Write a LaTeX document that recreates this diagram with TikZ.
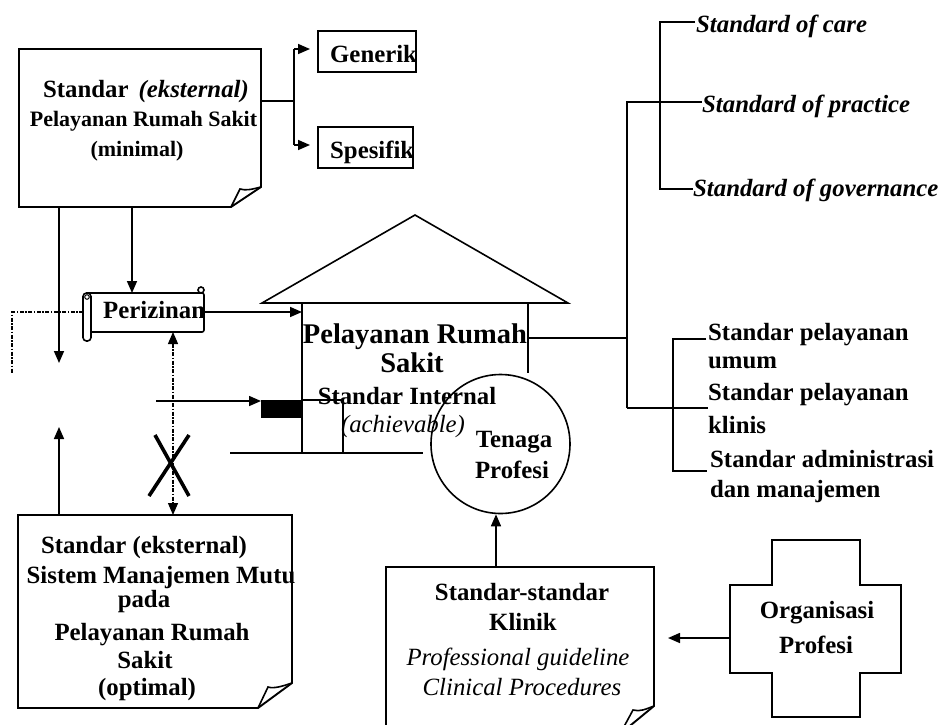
\documentclass[tikz,border=0pt]{standalone}
\usepackage{fontspec}
\setmainfont{Liberation Serif}
\usetikzlibrary{arrows.meta}
\begin{document}
\begin{tikzpicture}[x=1pt,y=-1pt,
  ln/.style={line width=1.6pt},
  bx/.style={line width=1.9pt},
  arr/.style={ln,-{Triangle[length=12pt,width=10pt]}},
  dd/.style={line width=1.3pt, dash pattern=on 4pt off 1.5pt on 1.5pt off 1.5pt},
  tb/.style={font=\fontsize{24.8}{28}\selectfont\bfseries, inner sep=0pt},
  ts/.style={font=\fontsize{22}{26}\selectfont\bfseries, inner sep=0pt},
  ti/.style={font=\fontsize{24.8}{28}\selectfont\bfseries\itshape, inner sep=0pt},
  tit/.style={font=\fontsize{24.8}{28}\selectfont\itshape, inner sep=0pt},
  th/.style={font=\fontsize{28.5}{32}\selectfont\bfseries, inner sep=0pt},
]
\useasboundingbox (0,0) rectangle (943,724);
\clip (0,0) rectangle (943,724);

% ---------- Box 1: Standar (eksternal) Pelayanan Rumah Sakit (minimal)
\draw[bx] (19,49) -- (261,49) -- (261,187) -- (231,207) -- (19,207) -- cycle;
\draw[ln] (231,207) -- (240,189) .. controls (246,191) and (253,189) .. (261,187);
\node[tb, anchor=base] (b1a) at (146,97) {Standar\hspace{10pt}\textit{(eksternal)}};
\node[ts, anchor=base] (b1b) at (143.5,126) {Pelayanan Rumah Sakit};
\node[ts, anchor=base] (b1c) at (137,156) {(minimal)};
\coordinate (b1r) at (261,101);
\coordinate (b1s1) at (59,207);
\coordinate (b1s2) at (132,207);

% ---------- Generik / Spesifik
\draw[bx] (318,31) rectangle (416,72);
\node[tb, anchor=base west] (gen) at (330,62) {Generik};
\draw[bx] (318,127) rectangle (413,168);
\node[tb, anchor=base west] (spe) at (330,158) {Spesifik};
\coordinate (fork) at (294,101);
\coordinate (genl) at (318,49);
\coordinate (spel) at (318,145);
\draw[ln] (b1r) -- (fork);
\draw[ln] (fork |- genl) -- (fork |- spel);
\draw[arr] (fork |- genl) -- ([xshift=-8pt]genl);
\draw[arr] (fork |- spel) -- ([xshift=-8pt]spel);

% ---------- Right: Standard of ...
\node[ti, anchor=base west] (soc) at (696,32) {Standard of care};
\node[ti, anchor=base west] (sop) at (702,112) {Standard of practice};
\node[ti, anchor=base west] (sog) at (693,196) {Standard of governance};
\draw[ln] (695,22) -- (660,22) -- (660,189) -- (693,189);
\draw[ln] (627,408) -- (627,102) -- (702,102);

\node[tb, anchor=base west] (sp1) at (708,340) {Standar pelayanan};
\node[tb, anchor=base west] (sp1b) at (708,368) {umum};
\node[tb, anchor=base west] (sp2) at (708,400) {Standar pelayanan};
\node[tb, anchor=base west] (sp2b) at (708,433) {klinis};
\node[tb, anchor=base west] (sp3) at (710,467) {Standar administrasi};
\node[tb, anchor=base west] (sp3b) at (710,497) {dan manajemen};
\draw[ln] (706,339) -- (673,339) -- (673,471) -- (707,471);
\draw[ln] (627,408) -- (708,408);

% ---------- House
\draw[ln] (262,303) -- (415,215) -- (568,303) -- cycle;
\draw[ln] (302,303) -- (302,453);
\draw[ln] (528,303) -- (528,373);
\draw[ln] (528,338) -- (627,338);
\fill (261,400) rectangle (302,418);
\draw[ln] (302,400) rectangle (343,453);
\draw[ln] (230,453) -- (423,453);
\node[th, anchor=base] (pr1) at (415,343) {Pelayanan Rumah};
\node[th, anchor=base] (pr2) at (412,372) {Sakit};
\node[tb, anchor=base] (si1) at (407,404) {Standar Internal};
\node[tit, anchor=base] (si2) at (403,432) {(achievable)};
\coordinate (hl) at (302,312);
\coordinate (blk) at (261,401);
\coordinate (blkst) at (156,401);
\draw[arr] (blkst) -- (blk);

% ---------- Tenaga Profesi circle
\node[draw, circle, ln, minimum size=139pt, inner sep=0pt] (tp) at (500.5,444) {};
\node[tb, anchor=base] (tp1) at (514,447) {Tenaga};
\node[tb, anchor=base] (tp2) at (512,478) {Profesi};

% ---------- Perizinan scroll
\draw[ln, fill=white, rounded corners=2pt] (88,293) -- (204,293) -- (204,332) -- (88,332);
\draw[ln, fill=white, rounded corners=3.5pt] (83,293) rectangle (91,341);
\draw[line width=1pt] (87,297) circle (2.3);
\draw[ln, fill=white] (201,290) circle (3);
\node[tb, anchor=base west] (per) at (103,318) {Perizinan};
\coordinate (perl) at (83,312);
\coordinate (perr) at (204,312);
\coordinate (pert) at (132,293);
\coordinate (perb) at (173,332);
\coordinate (dl) at (12,373);
\draw[arr] (b1s2) -- (pert);
\draw[arr] (perr) -- (hl);
\draw[dd] (perl) -- (perl -| dl) -- (dl);
\draw[arr] (b1s1) -- (59,363);

% ---------- Bottom left box
\draw[bx] (18,515) -- (292,515) -- (292,683) -- (258,708) -- (18,708) -- cycle;
\draw[ln] (258,708) -- (268,687) .. controls (274,689) and (283,686) .. (292,683);
\node[tb, anchor=base] (bl1) at (144,553) {Standar (eksternal)};
\node[tb, anchor=base] (bl2) at (161,583) {Sistem Manajemen Mutu};
\node[tb, anchor=base] (bl3) at (144,607) {pada};
\node[tb, anchor=base] (bl4) at (152,640) {Pelayanan Rumah};
\node[tb, anchor=base] (bl5) at (145,668) {Sakit};
\node[tb, anchor=base] (bl6) at (147,695) {(optimal)};
\coordinate (blt) at (59,515);
\coordinate (blt2) at (173,515);
\draw[arr] (blt) -- (59,427);
\draw[dd, {Triangle[length=12pt,width=10pt]}-{Triangle[length=12pt,width=10pt]}] (perb) -- (blt2);
\draw[line width=3.6pt] (155,435) -- (189,496);
\draw[line width=3.6pt] (189,435) -- (149,496);

% ---------- Standar-standar Klinik box
\draw[bx] (386,567) -- (654,567) -- (654,706) -- (620,734) -- (386,734) -- cycle;
\draw[ln] (620,734) -- (633,710) .. controls (640,712) and (646,709) .. (654,706);
\node[tb, anchor=base] (sk1) at (522,600) {Standar-standar};
\node[tb, anchor=base] (sk2) at (523,630) {Klinik};
\node[tit, anchor=base] (sk3) at (518,665) {Professional guideline};
\node[tit, anchor=base] (sk4) at (522,695) {Clinical Procedures};
\coordinate (skt) at (496,567);
\draw[arr] (skt) -- (skt |- tp.south);

% ---------- Organisasi Profesi cross
\draw[bx] (772,540) -- (860,540) -- (860,585) -- (901,585) -- (901,673) -- (860,673)
  -- (860,717) -- (772,717) -- (772,673) -- (730,673) -- (730,585) -- (772,585) -- cycle;
\node[tb, anchor=base] (op1) at (817,618) {Organisasi};
\node[tb, anchor=base] (op2) at (816,653) {Profesi};
\coordinate (opl) at (730,638);
\coordinate (skr) at (668,638);
\draw[arr] (opl) -- (skr);
\end{tikzpicture}
\end{document}
